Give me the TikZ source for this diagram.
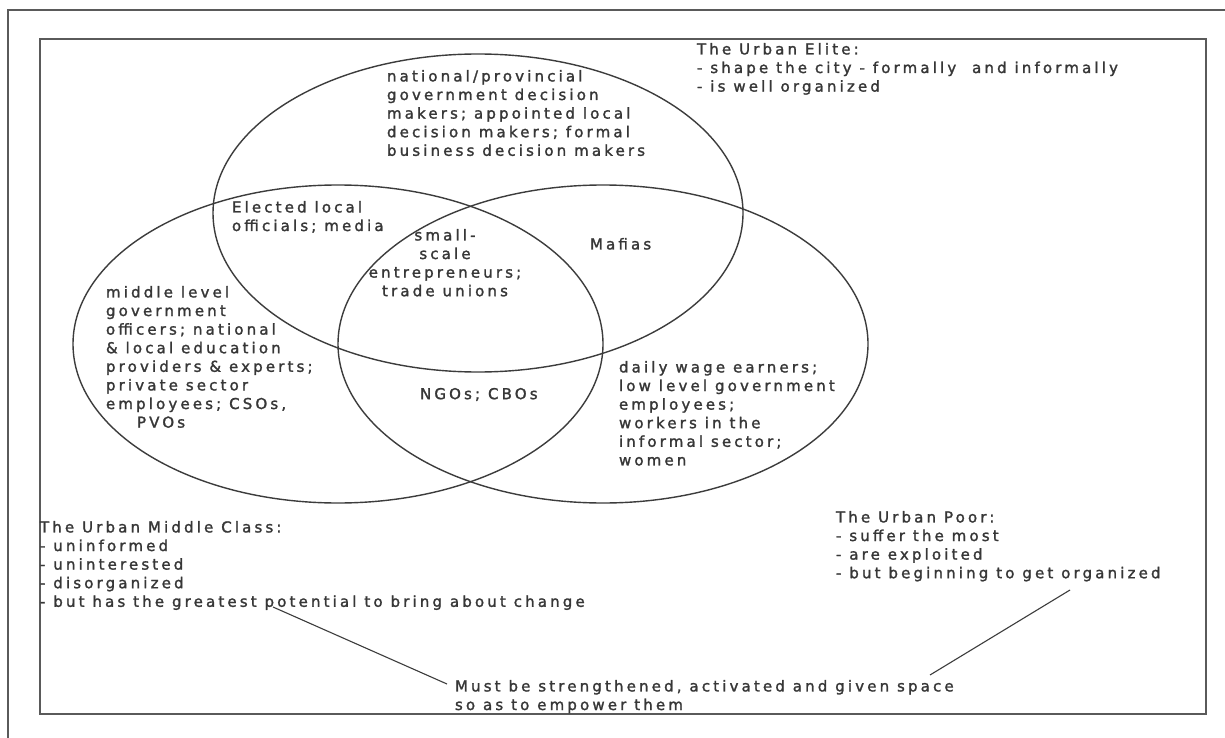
\documentclass[tikz,border=0pt]{standalone}
\usepackage{fontspec}
\usetikzlibrary{shapes.geometric}
\newfontfamily\diagfont[LetterSpace=21,FakeBold=1.6]{DejaVu Sans}
\definecolor{inkgray}{RGB}{55,55,55}
\definecolor{framegray}{RGB}{90,90,90}
\definecolor{ringgray}{RGB}{60,60,60}
\begin{document}
\begin{tikzpicture}[x=1pt,y=-1pt,
  txt/.style={font=\fontsize{15}{18.6}\diagfont, align=left, anchor=north west,
    inner sep=0pt, outer sep=0pt, text=inkgray},
  ring/.style={draw=ringgray, line width=1.4pt, ellipse, inner sep=0pt,
    minimum width=530pt, minimum height=318pt},
  frameline/.style={draw=framegray, line width=2pt},
  leader/.style={draw=ringgray, line width=1.1pt}]
  % page and frames
  \fill[white] (0,0) rectangle (1225,738);
  \useasboundingbox (0,0) rectangle (1225,738);
  \draw[frameline, line width=1.6pt] (8,738) -- (8,10) -- (1225,10);
  \draw[frameline] (40,39) rectangle (1206,714);

  % the three groups
  \node[ring] (elite)  at (478,213) {};
  \node[ring] (middle) at (338,344) {};
  \node[ring] (poor)   at (603,344) {};

  % texts inside the rings
  \node[txt] (toptxt) at (387,70) {national/provincial\\government decision\\makers; appointed local\\decision makers; formal\\business decision makers};
  \node[txt] (elected) at (232,201) {Elected local\\officials; media};
  \node[txt, align=center, anchor=north] (core) at (445,229) {small-\\scale\\entrepreneurs;\\trade unions};
  \node[txt] (mafias) at (590,238) {Mafias};
  \node[txt] (midtxt) at (106,286) {middle level\\government\\officers; national\\\& local education\\providers \& experts;\\private sector\\employees; CSOs,\\\hspace*{31pt}PVOs};
  \node[txt] (ngos) at (420,388) {NGOs; CBOs};
  \node[txt] (poortxt) at (619,361) {daily wage earners;\\low level government\\employees;\\workers in the\\informal sector;\\women};

  % group descriptions
  \node[txt] (elitedesc) at (697,43) {The Urban Elite:\\- shape the city - formally\ \ and informally\\- is well organized};
  \node[txt] (middesc) at (40,521) {The Urban Middle Class:\\- uninformed\\- uninterested\\- disorganized\\- but has the greatest potential to bring about change};
  \node[txt] (poordesc) at (836,511) {The Urban Poor:\\- suffer the most\\- are exploited\\- but beginning to get organized};
  \node[txt] (must) at (455,680) {Must be strengthened, activated and given space\\so as to empower them};

  % leaders to the common remark
  \coordinate (midpt) at (273,607);
  \coordinate (mustL) at (447,684);
  \coordinate (poorpt) at (1070,590);
  \coordinate (mustR) at (930,675);
  \draw[leader] (midpt) -- (mustL);
  \draw[leader] (poorpt) -- (mustR);
\end{tikzpicture}
\end{document}
